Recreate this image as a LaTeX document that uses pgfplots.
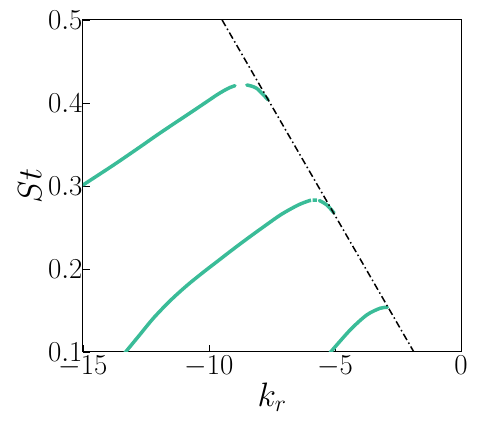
\RequirePackage{fix-cm}
\documentclass[border=0pt]{standalone}
\usepackage{pgfplots}
\pgfplotsset{compat=1.18}
\definecolor{curvec}{RGB}{58,188,152}
\begin{document}
\begin{tikzpicture}
\begin{axis}[
  scale only axis, width=378bp, height=332bp,
  xmin=-15, xmax=0, ymin=0.1, ymax=0.5,
  xtick={-15,-10,-5,0}, ytick={0.1,0.2,0.3,0.4,0.5},
  yticklabel style={/pgf/number format/fixed, /pgf/number format/precision=1,
    /pgf/number format/fixed zerofill, xshift=3bp},
  tick align=inside, major tick length=7bp, tick pos=left,
  tick style={black, line width=0.8bp},
  ticklabel style={font=\fontsize{29}{29}\selectfont},
  xlabel={$k_r$}, ylabel={$St$},
  label style={font=\fontsize{34}{34}\selectfont},
  axis line style={line width=1bp},
]
% upper branch
\addplot[curvec, line width=3.5bp, line cap=round, smooth] coordinates {
  (-15.00,0.3012) (-13.80,0.3250) (-12.74,0.3470) (-12.08,0.3610)
  (-11.42,0.3745) (-10.75,0.3880) (-10.09,0.4015) (-9.70,0.4095)
  (-9.43,0.4145) (-9.18,0.4185) (-8.97,0.4208)};
\addplot[curvec, line width=3.5bp, line cap=round, smooth] coordinates {
  (-8.50,0.4217) (-8.11,0.4177) (-7.65,0.4036)};
% middle branch
\addplot[curvec, line width=3.5bp, smooth] coordinates {
  (-13.35,0.0985) (-12.74,0.1210) (-12.21,0.1406) (-11.55,0.1615)
  (-10.88,0.1800) (-10.23,0.1960) (-9.56,0.2117) (-9.10,0.2225)
  (-8.44,0.2375) (-7.78,0.2520) (-7.12,0.2660) (-6.46,0.2771)
  (-6.06,0.2819) (-5.95,0.2828)};
\addplot[curvec, line width=3.5bp] coordinates {
  (-5.89,0.2831) (-5.72,0.2830)};
\addplot[curvec, line width=3.5bp, line cap=round, smooth] coordinates {
  (-5.62,0.2825) (-5.32,0.2771) (-5.04,0.2675)};
% lower branch
\addplot[curvec, line width=3.5bp, line cap=round, smooth] coordinates {
  (-5.20,0.0990) (-4.40,0.1265) (-3.74,0.1446) (-3.21,0.1527) (-2.92,0.1539)};
% cut-off line
\addplot[black, line width=1.5bp, dash pattern=on 7bp off 3bp on 1.5bp off 3bp]
  coordinates {(-9.48,0.5) (-1.87,0.1)};
\coordinate (bl) at (rel axis cs:0,0);
\coordinate (tr) at (rel axis cs:1,1);
\end{axis}
\pgfresetboundingbox
\path (bl) ++(-83bp,-75bp) coordinate (a);
\path (tr) ++(18bp,20bp) coordinate (b);
\path (a) rectangle (b);
\end{tikzpicture}
\end{document}
